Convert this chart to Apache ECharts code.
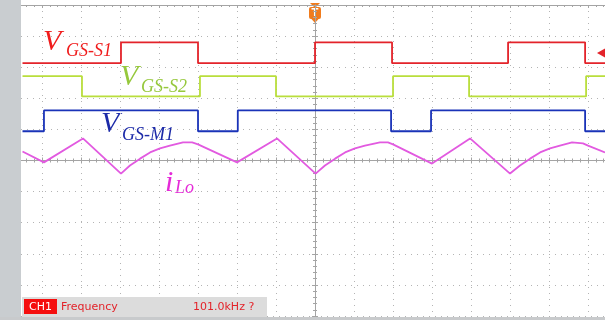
<!DOCTYPE html>
<html>
<head>
<meta charset="utf-8">
<script src="https://cdn.jsdelivr.net/npm/echarts@6/dist/echarts.min.js"></script>
<style>
  html, body { margin: 0; padding: 0; background: #fff; }
  #chart { width: 605px; height: 320px; }
</style>
</head>
<body>
<div id="chart"></div>
<script>
// Time axis in microseconds (2 us/div), vertical axis in divisions.
// Each trace: [time (us), level (div)].
const s1Wave = [
  [-15, 3.13], [-9.95, 3.13], [-9.95, 3.8], [-6.0, 3.8], [-6.0, 3.13],
  [0, 3.13], [0, 3.8], [3.95, 3.8], [3.95, 3.13],
  [9.9, 3.13], [9.9, 3.8], [13.85, 3.8], [13.85, 3.13], [15, 3.13]
];
const s2Wave = [
  [-15, 2.71], [-11.95, 2.71], [-11.95, 2.06], [-5.9, 2.06], [-5.9, 2.71],
  [-2.0, 2.71], [-2.0, 2.06], [4.0, 2.06], [4.0, 2.71],
  [7.9, 2.71], [7.9, 2.06], [13.9, 2.06], [13.9, 2.71], [15, 2.71]
];
const m1Wave = [
  [-15, 0.94], [-13.9, 0.94], [-13.9, 1.61], [-6.0, 1.61], [-6.0, 0.94],
  [-3.96, 0.94], [-3.96, 1.61], [3.9, 1.61], [3.9, 0.94],
  [5.95, 0.94], [5.95, 1.61], [13.85, 1.61], [13.85, 0.94], [15, 0.94]
];
const iLoWave = [
  [-15.0, 0.29], [-13.9, -0.06], [-11.9, 0.71], [-9.95, -0.42],
  [-9.49, -0.16], [-8.97, 0.06], [-8.46, 0.26], [-7.95, 0.39], [-7.44, 0.48],
  [-6.77, 0.58], [-6.3, 0.58], [-6.0, 0.52],
  [-4.0, -0.06], [-1.95, 0.71], [0.03, -0.42],
  [0.51, -0.16], [1.03, 0.06], [1.54, 0.26], [2.05, 0.39], [2.56, 0.48],
  [3.33, 0.58], [3.74, 0.58], [4.0, 0.52],
  [6.0, -0.1], [7.95, 0.71], [10.0, -0.42],
  [10.51, -0.16], [11.03, 0.06], [11.54, 0.26], [12.05, 0.39], [12.56, 0.48],
  [13.18, 0.58], [13.74, 0.55], [14.0, 0.48], [14.87, 0.26]
];
const traceNames = ['VGS-S1', 'VGS-S2', 'VGS-M1', 'iLo'];
const traceColors = ['#e3232a', '#b9de3c', '#1a33b8', '#e25ae0'];
const readout = { channel: 'CH1', name: 'Frequency', value: '101.0kHz ?' };

const chart = echarts.init(document.getElementById('chart'), null, { renderer: 'canvas' });

const gridGray = '#b4b4b4';
const axisGray = '#a4a4a4';
const dotted = { color: gridGray, width: 1, type: [1, 5] };

// visible window: -16 us (hidden under the bezel) to the right screen edge
const tMin = -16, tMax = 14.87;

function xAx(position, onZero, inside, split) {
  return {
    type: 'value', min: tMin, max: tMax, interval: 2, position: position,
    axisLine: { show: true, onZero: onZero, onZeroAxisIndex: 0, lineStyle: { color: axisGray, width: 1 } },
    axisTick: { show: true, inside: inside, length: 3, lineStyle: { color: axisGray } },
    minorTick: { show: true, splitNumber: 5, length: 2, lineStyle: { color: axisGray } },
    axisLabel: { show: false },
    splitLine: { show: split, lineStyle: dotted },
    minorSplitLine: { show: false }
  };
}
function yAx(position, split) {
  return {
    type: 'value', min: -5, max: 5, interval: 1, position: position,
    axisLine: { show: true, onZero: true, onZeroAxisIndex: 0, lineStyle: { color: axisGray, width: 1 } },
    axisTick: { show: true, length: 3, lineStyle: { color: axisGray } },
    minorTick: { show: true, splitNumber: 5, length: 2, lineStyle: { color: axisGray } },
    axisLabel: { show: false },
    splitLine: { show: split, lineStyle: dotted }
  };
}

function trace(i, data) {
  return {
    name: traceNames[i], type: 'line', data: data, xAxisIndex: 0, yAxisIndex: 0,
    showSymbol: false, symbol: 'none', smooth: false,
    lineStyle: { color: traceColors[i], width: 1.8 }, z: 5
  };
}

const serif = '"Liberation Serif", "DejaVu Serif", serif';
function label(x, y, main, sub, color, mainSize, subSize, dx, dy) {
  return {
    type: 'group', x: x, y: y, z: 50,
    children: [
      { type: 'text', x: 0, y: 0, style: { text: main, fill: color, font: 'italic ' + mainSize + 'px ' + serif, verticalAlign: 'middle', align: 'left' } },
      { type: 'text', x: dx, y: dy, style: { text: sub, fill: color, font: 'italic ' + subSize + 'px ' + serif, verticalAlign: 'middle', align: 'left' } }
    ]
  };
}
function chMarker(y, num, color, filled) {
  return {
    type: 'group', x: 0, y: y, z: 110,
    children: [
      { type: 'text', x: 11, y: 0, style: { text: num, fill: color, font: '9px "DejaVu Sans", sans-serif', verticalAlign: 'middle', align: 'center' } },
      { type: 'polygon', shape: { points: [[14.5, -3.5], [20.5, 0], [14.5, 3.5]] },
        style: filled ? { fill: color } : { fill: 'none', stroke: color, lineWidth: 1 } }
    ]
  };
}

chart.setOption({
  animation: false,
  backgroundColor: '#ffffff',
  grid: { left: 3, right: 0, top: 5, bottom: 4, containLabel: false },
  xAxis: [xAx('bottom', true, false, true), xAx('top', true, false, false), xAx('top', false, true, false)],
  yAxis: [yAx('left', true), yAx('right', false)],
  series: [trace(0, s1Wave), trace(1, s2Wave), trace(2, m1Wave), trace(3, iLoWave)],
  graphic: [
    // side and bottom bezels
    { type: 'rect', z: 100, shape: { x: 0, y: 0, width: 21, height: 320 }, style: { fill: '#c9cdd0' } },
    { type: 'rect', z: 100, shape: { x: 0, y: 317, width: 605, height: 3 }, style: { fill: '#c8cacc' } },
    chMarker(63, '1', '#e3232a', false),
    chMarker(96.5, '3', '#c6dc6a', false),
    chMarker(131, '2', '#1a33b8', true),
    chMarker(285, '4', '#e25ae0', false),
    // trigger position marker
    { type: 'group', x: 315, y: 0, z: 110, children: [
      { type: 'polygon', shape: { points: [[-5, 3], [5, 3], [0, 8]] }, style: { fill: '#f07c1e' } },
      { type: 'rect', shape: { x: -6, y: 7, width: 12, height: 12, r: 2 }, style: { fill: '#f07c1e' } },
      { type: 'polygon', shape: { points: [[-4, 18.5], [4, 18.5], [0, 23]] }, style: { fill: '#f07c1e' } },
      { type: 'text', x: 0, y: 13.5, style: { text: 'T', fill: '#fff', font: 'bold 10px "DejaVu Sans", sans-serif', align: 'center', verticalAlign: 'middle' } }
    ] },
    // trigger level marker
    { type: 'polygon', z: 110, shape: { points: [[597, 53], [605, 48.5], [605, 57.5]] }, style: { fill: '#e3232a' } },
    // trace labels
    label(43, 42, 'V', 'GS-S1', '#f01c1c', 30, 18, 23, 9),
    label(120, 77, 'V', 'GS-S2', '#96c83c', 30, 18, 21, 10),
    label(101, 124, 'V', 'GS-M1', '#1c2aa8', 30, 18, 21, 11),
    label(165, 183, 'i', 'Lo', '#e52ad8', 30, 18, 10, 5.5),
    // measurement readout
    { type: 'rect', z: 100, shape: { x: 22, y: 297, width: 245, height: 20 }, style: { fill: '#dcdcdc' } },
    { type: 'rect', z: 101, shape: { x: 24, y: 299, width: 33, height: 15 }, style: { fill: '#f50f0f' } },
    { type: 'text', z: 102, x: 40.5, y: 307, style: { text: readout.channel, fill: '#fff', font: '11px "DejaVu Sans", sans-serif', align: 'center', verticalAlign: 'middle' } },
    { type: 'text', z: 102, x: 61, y: 307, style: { text: readout.name, fill: '#e3232a', font: '11px "DejaVu Sans", sans-serif', align: 'left', verticalAlign: 'middle' } },
    { type: 'text', z: 102, x: 193, y: 307, style: { text: readout.value, fill: '#e3232a', font: '11px "DejaVu Sans", sans-serif', align: 'left', verticalAlign: 'middle' } }
  ]
});
</script>
</body>
</html>
